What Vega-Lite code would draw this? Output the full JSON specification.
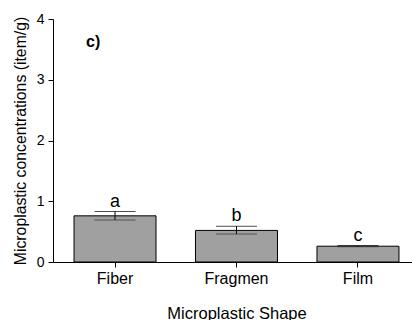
{
  "$schema": "https://vega.github.io/schema/vega-lite/v6.json",
  "autosize": {"type": "none"},
  "padding": {"left": 53, "top": 19, "right": 0, "bottom": 58},
  "width": 367,
  "height": 243,
  "background": "white",
  "title": {"text": "c)", "anchor": "start", "frame": "group", "dx": 33, "dy": 42, "fontSize": 16, "fontWeight": "bold", "font": "Liberation Sans", "color": "black"},
  "data": {"values": [
    {"shape": "Fiber", "mean": 0.76, "lower": 0.69, "upper": 0.83, "letter": "a"},
    {"shape": "Fragmen", "mean": 0.52, "lower": 0.46, "upper": 0.59, "letter": "b"},
    {"shape": "Film", "mean": 0.26, "lower": 0.25, "upper": 0.27, "letter": "c"}
  ]},
  "encoding": {
    "x": {"field": "shape", "type": "nominal", "sort": null,
      "scale": {"paddingInner": 0.325, "paddingOuter": 0.173},
      "axis": {"title": "Microplastic Shape", "labelAngle": 0, "domainColor": "black", "tickColor": "black", "tickSize": 5, "labelPadding": 3, "titlePadding": 19, "labelFontSize": 16, "titleFontSize": 16.5, "titleFontWeight": "normal", "labelFont": "Liberation Sans", "titleFont": "Liberation Sans", "labelColor": "black", "titleColor": "black"}}
  },
  "layer": [
    {"mark": {"type": "bar", "fill": "#a0a0a0", "stroke": "black", "strokeWidth": 1},
     "encoding": {"y": {"field": "mean", "type": "quantitative",
       "scale": {"domain": [0, 4]},
       "axis": {"title": "Microplastic concentrations (item/g)", "values": [0, 1, 2, 3, 4], "format": "d", "grid": false, "domainColor": "black", "tickColor": "black", "tickSize": 5, "labelPadding": 4, "titlePadding": 8, "labelFontSize": 14, "titleFontSize": 15.8, "titleFontWeight": "normal", "labelFont": "Liberation Sans", "titleFont": "Liberation Sans", "labelColor": "black", "titleColor": "black"}}}},
    {"mark": {"type": "rule", "color": "black", "strokeWidth": 1},
     "encoding": {"y": {"field": "lower", "type": "quantitative"}, "y2": {"field": "upper"}}},
    {"mark": {"type": "tick", "color": "black", "thickness": 1, "size": 41},
     "encoding": {"y": {"field": "upper", "type": "quantitative"}}},
    {"mark": {"type": "tick", "color": "#333333", "thickness": 1, "size": 41, "strokeDash": [2, 2]},
     "encoding": {"y": {"field": "lower", "type": "quantitative"}}},
    {"mark": {"type": "text", "baseline": "alphabetic", "dy": -5, "fontSize": 18, "font": "Liberation Sans", "color": "black"},
     "encoding": {"y": {"field": "upper", "type": "quantitative"}, "text": {"field": "letter"}}}
  ],
  "config": {"view": {"stroke": null}}
}
